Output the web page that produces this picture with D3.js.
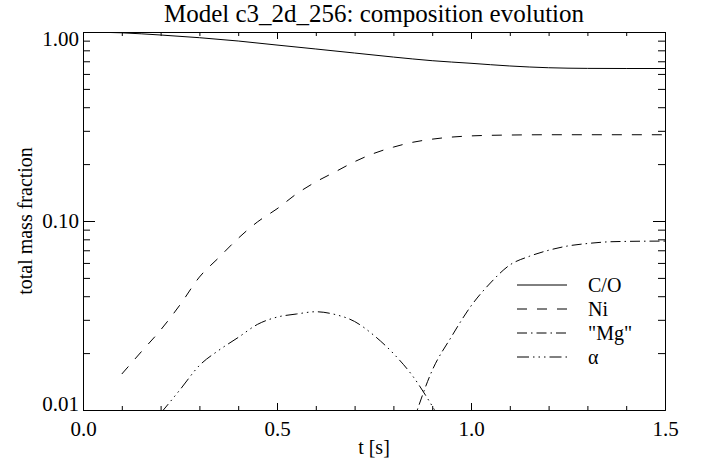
<!DOCTYPE html>
<html>
<head>
<meta charset="utf-8">
<script src="https://cdn.jsdelivr.net/npm/d3@7"></script>
</head>
<body style="margin:0; background:#fff">
<svg id="chart" width="706" height="465"></svg>
<script>
// Data
const tiempoCO = [0, 0.1, 0.2, 0.3, 0.4, 0.5, 0.6, 0.7, 0.8, 0.9, 1.0, 1.1, 1.2, 1.3, 1.4, 1.5];
const valoresCO = [1.0, 0.99, 0.964, 0.933, 0.896, 0.853, 0.813, 0.774, 0.737, 0.705, 0.683, 0.661, 0.647, 0.642, 0.641, 0.641];

const tiempoNi = [0.1, 0.15, 0.2, 0.25, 0.3, 0.35, 0.4, 0.45, 0.5, 0.55, 0.6, 0.65, 0.7, 0.75, 0.8, 0.85, 0.9, 0.95, 1.0, 1.05, 1.1, 1.2, 1.3, 1.4, 1.5];
const valoresNi = [0.0155, 0.0203, 0.0265, 0.036, 0.0505, 0.064, 0.081, 0.099, 0.116, 0.139, 0.161, 0.182, 0.206, 0.228, 0.246, 0.261, 0.271, 0.278, 0.282, 0.284, 0.285, 0.286, 0.286, 0.286, 0.286];

const tiempoMg = [0.85, 0.9, 0.95, 1.0, 1.05, 1.1, 1.15, 1.2, 1.25, 1.3, 1.35, 1.4, 1.45, 1.5];
const valoresMg = [0.0085, 0.0162, 0.0245, 0.0355, 0.047, 0.0585, 0.065, 0.070, 0.0738, 0.076, 0.0775, 0.078, 0.0782, 0.0783];

const tiempoAlfa = [0.2, 0.25, 0.3, 0.35, 0.4, 0.45, 0.5, 0.55, 0.6, 0.65, 0.7, 0.75, 0.8, 0.85, 0.9, 0.95];
const valoresAlfa = [0.0096, 0.0128, 0.0172, 0.0207, 0.0242, 0.0284, 0.031, 0.0322, 0.0331, 0.032, 0.0294, 0.0248, 0.0199, 0.0151, 0.0105, 0.007];

const etiquetasSerie = ['C/O', 'Ni', '"Mg"', 'α'];
const xTicksMayores = [0, 0.5, 1.0, 1.5];
const xTicksMenores = d3.range(0, 1.5001, 0.1);
const yTicksMayores = [0.01, 0.1, 1];
const yTicksMenores = [0.02, 0.03, 0.04, 0.05, 0.06, 0.07, 0.08, 0.09, 0.2, 0.3, 0.4, 0.5, 0.6, 0.7, 0.8, 0.9];

// Line style per series: solid, dashed, dash-dot, dash-dot-dot-dot
const estilos = [null, '10,10', '10,4,1.5,4', '12,4,1.5,4,1.5,4,1.5,4'];

const series = [
    { t: tiempoCO, v: valoresCO },
    { t: tiempoNi, v: valoresNi },
    { t: tiempoMg, v: valoresMg },
    { t: tiempoAlfa, v: valoresAlfa }
];

const FUENTE = 'Liberation Serif';
const margen = { left: 83, right: 41, top: 32, bottom: 55 };
const width = 706, height = 465;

const svg = d3.select('#chart');

const x = d3.scaleLinear().domain([0, 1.5]).range([margen.left, width - margen.right]);
const y = d3.scaleLog().domain([0.01, 1]).range([height - margen.bottom, margen.top]);

// Clip curves to the plot frame
svg.append('clipPath').attr('id', 'area')
    .append('rect')
    .attr('x', x(0)).attr('y', y(1))
    .attr('width', x(1.5) - x(0)).attr('height', y(0.01) - y(1));

const linea = d3.line()
    .x(d => x(d[0]))
    .y(d => y(d[1]))
    .curve(d3.curveMonotoneX);

const curvas = svg.append('g').attr('clip-path', 'url(#area)');
series.forEach((s, i) => {
    curvas.append('path')
        .datum(s.t.map((t, j) => [t, s.v[j]]))
        .attr('d', linea)
        .attr('fill', 'none')
        .attr('stroke', '#000')
        .attr('stroke-width', 1)
        .attr('stroke-dasharray', estilos[i]);
});

// Axes: ticks pointing inward on all four sides
function estiloEje(g) {
    g.attr('font-size', 21).attr('font-family', FUENTE);
    g.selectAll('.domain').attr('stroke', '#000');
    g.selectAll('.tick line').attr('stroke', '#000');
    g.selectAll('text').attr('fill', '#000');
}

// bottom
svg.append('g').attr('transform', `translate(0,${y(0.01)})`)
    .call(d3.axisBottom(x).tickValues(xTicksMenores).tickSize(-4).tickSizeOuter(0).tickFormat(''))
    .call(estiloEje);
svg.append('g').attr('transform', `translate(0,${y(0.01)})`)
    .call(d3.axisBottom(x).tickValues(xTicksMayores).tickSize(-7).tickSizeOuter(0).tickPadding(11).tickFormat(d3.format('.1f')))
    .call(estiloEje);

// top
svg.append('g').attr('transform', `translate(0,${y(1)})`)
    .call(d3.axisTop(x).tickValues(xTicksMenores).tickSize(-4).tickSizeOuter(0).tickFormat(''))
    .call(estiloEje);
svg.append('g').attr('transform', `translate(0,${y(1)})`)
    .call(d3.axisTop(x).tickValues(xTicksMayores).tickSize(-7).tickSizeOuter(0).tickFormat(''))
    .call(estiloEje);

// left
svg.append('g').attr('transform', `translate(${x(0)},0)`)
    .call(d3.axisLeft(y).tickValues(yTicksMenores).tickSize(-7).tickSizeOuter(0).tickFormat(''))
    .call(estiloEje);
const ejeY = svg.append('g').attr('transform', `translate(${x(0)},0)`)
    .call(d3.axisLeft(y).tickValues(yTicksMayores).tickSize(-12).tickSizeOuter(0).tickPadding(4).tickFormat(d3.format('.2f')))
    .call(estiloEje);
// end labels are kept inside the axis range, like the original
ejeY.selectAll('.tick text')
    .attr('dy', d => d === 1 ? '0.62em' : d === 0.01 ? '0em' : '0.32em');

// right
svg.append('g').attr('transform', `translate(${x(1.5)},0)`)
    .call(d3.axisRight(y).tickValues(yTicksMenores).tickSize(-7).tickSizeOuter(0).tickFormat(''))
    .call(estiloEje);
svg.append('g').attr('transform', `translate(${x(1.5)},0)`)
    .call(d3.axisRight(y).tickValues(yTicksMayores).tickSize(-12).tickSizeOuter(0).tickFormat(''))
    .call(estiloEje);

// titles
svg.append('text')
    .attr('x', (x(0) + x(1.5)) / 2).attr('y', 22)
    .attr('text-anchor', 'middle')
    .attr('font-size', 25)
    .text('Model c3_2d_256: composition evolution');

svg.append('text')
    .attr('x', (x(0) + x(1.5)) / 2).attr('y', 454)
    .attr('text-anchor', 'middle')
    .attr('font-size', 20)
    .text('t [s]');

svg.append('text')
    .attr('transform', `translate(32,${(y(0.01) + y(1)) / 2}) rotate(-90)`)
    .attr('text-anchor', 'middle')
    .attr('font-size', 20)
    .text('total mass fraction');

// legend
const leyenda = svg.append('g');
etiquetasSerie.forEach((nombre, i) => {
    const ly = 285 + i * 24;
    leyenda.append('line')
        .attr('x1', 517).attr('x2', 567)
        .attr('y1', ly).attr('y2', ly)
        .attr('stroke', '#000')
        .attr('stroke-dasharray', estilos[i]);
    leyenda.append('text')
        .attr('x', 588).attr('y', ly + 7)
        .attr('font-size', 20)
        .text(nombre);
});

// serif font on every text
svg.selectAll('text').attr('font-family', FUENTE).style('font-family', FUENTE).attr('fill', '#000');
</script>
</body>
</html>
